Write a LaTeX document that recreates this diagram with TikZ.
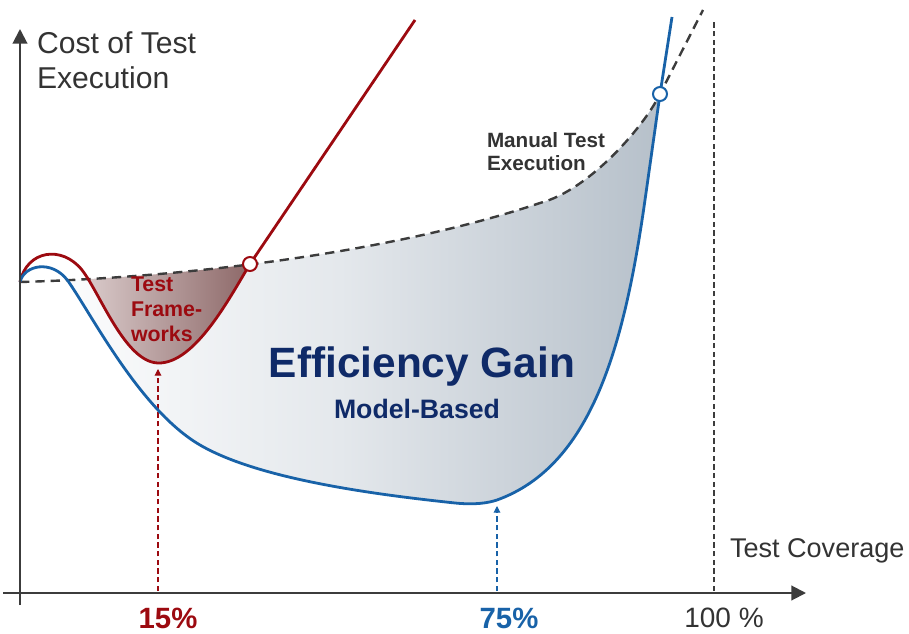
\documentclass[tikz,border=0pt]{standalone}
\usepackage{fontspec}
\setmainfont{Liberation Sans}
\usetikzlibrary{arrows.meta}
\definecolor{cred}{HTML}{9C0A10}
\definecolor{cblue}{HTML}{1862A8}
\definecolor{cnavy}{HTML}{0F2A68}
\definecolor{caxis}{HTML}{3C3C3C}
\definecolor{ctext}{HTML}{333333}
\definecolor{gainR}{HTML}{B6C0CA}
\definecolor{gainM}{HTML}{E4E8EC}
\definecolor{tfL}{HTML}{F8F2F2}
\definecolor{tfR}{HTML}{8D6868}
\newcommand\manualpath{(O) .. controls (200,277) and (400,250) .. (540,203) .. controls (590,190) and (645,125) .. (Q)}
\newcommand\redpath{(O) .. controls (27,250) and (62,245) .. (82,270) .. controls (100,293) and (125,362) .. (158,363) .. controls (195,364) and (230,297) .. (P)}
\newcommand\bluepath{(O) .. controls (24,265) and (52,259) .. (68,281) .. controls (92,315) and (140,410) .. (200,445) .. controls (260,480) and (380,495) .. (455,503) .. controls (475,505) and (488,503) .. (497,500) .. controls (591,466) and (624,348) .. (645,200) -- (Q)}
\begin{document}
\begin{tikzpicture}[x=0.75pt,y=-0.75pt,
  curve/.style={line width=2.1pt, line join=round},
  manual/.style={line width=1.8pt, caxis, dash pattern=on 7pt off 4.5pt},
  guide/.style={line width=0.8pt, dash pattern=on 4pt off 2.5pt},
  ring/.style={circle, draw, line width=1.5pt, fill=white, minimum size=10.5pt, inner sep=0pt},
  axisline/.style={line width=1.5pt, caxis, -{Triangle[length=11pt,width=11pt]}},
  smalltip/.style={-{Triangle[length=5pt,width=5pt]}},
  lbl/.style={inner sep=0pt, outer sep=0pt}
]
\useasboundingbox (0,0) rectangle (909,634);
\coordinate (O) at (20,282);
\coordinate (P) at (250,264);
\coordinate (Q) at (660,94);
\coordinate (Mend) at (703,10);
\coordinate (Rend) at (415,20);
\coordinate (Bend) at (672,17);

% efficiency gain fill
\begin{scope}
  \clip \manualpath -- (660,640) -- (0,640) -- (0,282) -- cycle;
  \shade[left color=white, right color=gainR, middle color=gainM] \bluepath -- (660,0) -- (20,0) -- cycle;
\end{scope}
% test frameworks fill
\begin{scope}
  \clip \manualpath -- (660,640) -- (0,640) -- (0,282) -- cycle;
  \shade[left color=tfL, right color=tfR] \redpath -- cycle;
\end{scope}

% guides
\coordinate (a15) at (158,591);
\coordinate (t15) at (158,369);
\coordinate (a75) at (497,591);
\coordinate (t75) at (497,506);
\coordinate (a100) at (714,591);
\coordinate (t100) at (714,22);
\draw[guide, cred, smalltip] (a15) -- (t15);
\draw[guide, cblue, smalltip] (a75) -- (t75);
\draw[guide, caxis] (a100) -- (t100);

% curves
\draw[manual] \manualpath -- (Mend);
\draw[curve, cred] \redpath -- (Rend);
\draw[curve, cblue] \bluepath -- (Bend);
\node[ring, draw=cred] (rP) at (P) {};
\node[ring, draw=cblue] (rQ) at (Q) {};

% axes
\coordinate (xs) at (3,593);
\coordinate (xe) at (806,593);
\coordinate (ys) at (20,605);
\coordinate (ye) at (20,29);
\draw[axisline] (xs) -- (xe);
\draw[axisline] (ys) -- (ye);

% texts
\node[lbl, anchor=north west, align=left, text=ctext, font=\fontsize{22.6}{26.25}\selectfont] (ylab) at (37,32) {Cost of Test\\Execution};
\node[lbl, anchor=base west, text=ctext, font=\fontsize{20.3}{23}\selectfont] (xlab) at (730,557) {Test Coverage};
\node[lbl, anchor=north west, align=left, text=ctext, font=\bfseries\fontsize{15.5}{17.25}\selectfont] (mlab) at (487,133) {Manual Test\\Execution};
\node[lbl, anchor=north west, align=left, text=cred, font=\bfseries\fontsize{16}{18.75}\selectfont] (tlab) at (131,277) {Test\\Frame-\\works};
\node[lbl, anchor=base, text=cnavy, font=\bfseries\fontsize{31.8}{36}\selectfont] (egain) at (422,377) {Efficiency Gain};
\node[lbl, anchor=base, text=cnavy, font=\bfseries\fontsize{20}{24}\selectfont] (mbased) at (417,418) {Model-Based};
\node[lbl, anchor=base, text=cred, font=\bfseries\fontsize{22}{26}\selectfont] (p15) at (168,628) {15\%};
\node[lbl, anchor=base, text=cblue, font=\bfseries\fontsize{22}{26}\selectfont] (p75) at (509,628) {75\%};
\node[lbl, anchor=base, text=ctext, font=\fontsize{21}{25}\selectfont] (p100) at (724,627) {100 \%};
\end{tikzpicture}
\end{document}
